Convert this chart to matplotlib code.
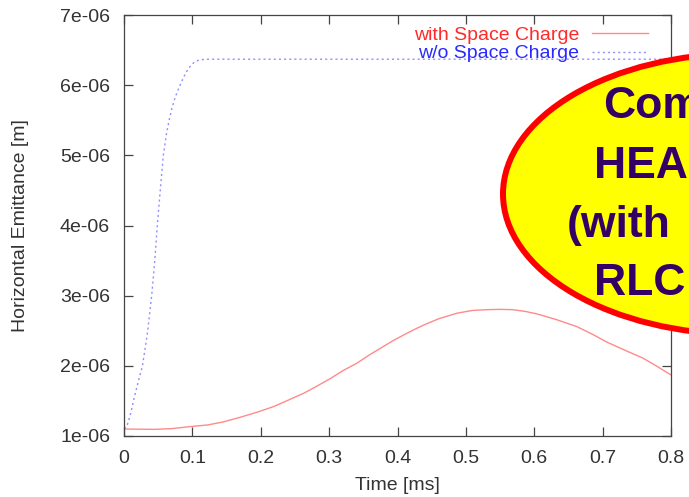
import matplotlib
matplotlib.use("Agg")
import matplotlib.pyplot as plt
from matplotlib.patches import Ellipse

plt.rcParams['font.family'] = ['Liberation Sans', 'DejaVu Sans']

# ---- data ----
t_sc = [0, 0.02, 0.044, 0.07, 0.093, 0.122, 0.145, 0.171, 0.195, 0.219, 0.24,
        0.263, 0.282, 0.302, 0.32, 0.341, 0.358, 0.375, 0.392, 0.409, 0.423,
        0.438, 0.46, 0.487, 0.51, 0.530, 0.55, 0.569, 0.587, 0.604, 0.632,
        0.662, 0.685, 0.706, 0.733, 0.759, 0.78, 0.8]
e_sc = [1.10e-6, 1.097e-6, 1.095e-6, 1.105e-6, 1.13e-6, 1.157e-6, 1.20e-6,
        1.27e-6, 1.34e-6, 1.42e-6, 1.51e-6, 1.61e-6, 1.71e-6, 1.82e-6, 1.93e-6,
        2.04e-6, 2.15e-6, 2.25e-6, 2.35e-6, 2.44e-6, 2.51e-6, 2.58e-6, 2.67e-6,
        2.75e-6, 2.79e-6, 2.80e-6, 2.805e-6, 2.80e-6, 2.775e-6, 2.74e-6, 2.66e-6,
        2.56e-6, 2.45e-6, 2.34e-6, 2.22e-6, 2.11e-6, 1.99e-6, 1.87e-6]

t_nosc = [0, 0.004, 0.01, 0.015, 0.021, 0.027, 0.034, 0.0405, 0.045, 0.0487,
          0.053, 0.0575, 0.062, 0.066, 0.070, 0.074, 0.078, 0.082, 0.087, 0.092,
          0.097, 0.102, 0.106, 0.111, 0.118, 0.125, 0.8]
e_nosc = [1.11e-6, 1.13e-6, 1.33e-6, 1.55e-6, 1.78e-6, 2.0e-6, 2.45e-6, 3.0e-6,
          3.5e-6, 4.0e-6, 4.5e-6, 5.0e-6, 5.3e-6, 5.5e-6, 5.67e-6, 5.8e-6,
          5.91e-6, 6.0e-6, 6.11e-6, 6.2e-6, 6.27e-6, 6.32e-6, 6.345e-6, 6.36e-6,
          6.368e-6, 6.37e-6, 6.37e-6]

xticks = [0, 0.1, 0.2, 0.3, 0.4, 0.5, 0.6, 0.7, 0.8]
xtick_labels = ['0', '0.1', '0.2', '0.3', '0.4', '0.5', '0.6', '0.7', '0.8']
yticks = [1e-6, 2e-6, 3e-6, 4e-6, 5e-6, 6e-6, 7e-6]
ytick_labels = ['1e-06', '2e-06', '3e-06', '4e-06', '5e-06', '6e-06', '7e-06']

label_sc = 'with Space Charge'
label_nosc = 'w/o Space Charge'
callout_lines = ['Com', 'HEA', '(with', 'RLC']

# ---- figure ----
W, H = 689, 497
fig = plt.figure(figsize=(W / 100, H / 100), dpi=100)
L, R, T, B = 124, 671, 15, 436
ax = fig.add_axes([L / W, 1 - B / H, (R - L) / W, (B - T) / H])

txt_col = '#333333'
l1, = ax.plot(t_sc, e_sc, color='#ff8a8a', lw=1.0, label=label_sc)
l2, = ax.plot(t_nosc, e_nosc, color='#9090ff', lw=1.0,
              linestyle=(0, (1.5, 2.2)), label=label_nosc)

ax.set_xlim(0, 0.8)
ax.set_ylim(1e-6, 7e-6)
ax.set_xticks(xticks)
ax.set_xticklabels(xtick_labels)
ax.set_yticks(yticks)
ax.set_yticklabels(ytick_labels)
ax.tick_params(direction='in', length=6.5, width=0.9, colors='#444444',
               labelcolor=txt_col, labelsize=14, top=True, right=True, pad=10)
for s in ax.spines.values():
    s.set_color('#444444')
    s.set_linewidth(0.9)

ax.set_xlabel('Time [ms]', fontsize=14, color=txt_col, va='center')
ax.xaxis.set_label_coords(0.5, (B - 485) / (B - T))
ax.set_ylabel('Horizontal Emittance [m]', fontsize=14, color=txt_col, va='center')
ax.yaxis.set_label_coords((21 - L) / (R - L), 0.5)

leg = ax.legend(loc='upper right', bbox_to_anchor=(648 / W, 1 - 26 / H),
                bbox_transform=fig.transFigure, frameon=False, markerfirst=False,
                fontsize=14, handlelength=2.9, handletextpad=0.65,
                labelspacing=0.06, borderpad=0, borderaxespad=0)
for t, c in zip(leg.get_texts(), ['#ff2a2a', '#2a2aff']):
    t.set_color(c)

# ---- callout overlay ----
ov = fig.add_axes([0, 0, 1, 1], zorder=10)
ov.set_xlim(0, W)
ov.set_ylim(H, 0)
ov.axis('off')
ov.patch.set_alpha(0)
ov.add_patch(Ellipse((743, 194), 480, 281, facecolor='#ffff00',
                     edgecolor='#ff0000', linewidth=4.3))
xs = [603, 594, 567, 594]
ys = [118, 178, 237, 295]
for s, x, y in zip(callout_lines, xs, ys):
    ov.text(x, y, s, fontsize=32, fontweight='bold', color='#330066',
            ha='left', va='baseline')

fig.savefig('out.png', dpi=100)
